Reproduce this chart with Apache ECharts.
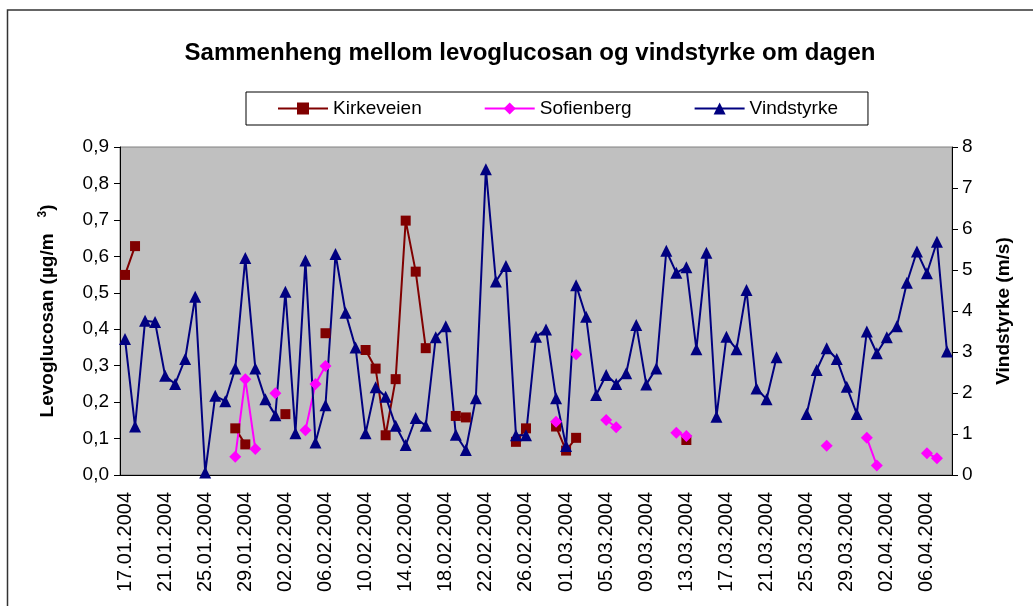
<!DOCTYPE html>
<html>
<head>
<meta charset="utf-8">
<script src="https://cdn.jsdelivr.net/npm/echarts@6/dist/echarts.min.js"></script>
<style>
  html, body { margin: 0; padding: 0; background: #fff; }
  #chart { width: 1033px; height: 606px; }
</style>
</head>
<body>
<div id="chart"></div>
<script>
// dates 17.01.2004 - 08.04.2004
var dates = [
  '17.01.2004', '18.01.2004', '19.01.2004', '20.01.2004', '21.01.2004', '22.01.2004', '23.01.2004', '24.01.2004',
  '25.01.2004', '26.01.2004', '27.01.2004', '28.01.2004', '29.01.2004', '30.01.2004', '31.01.2004',
  '01.02.2004', '02.02.2004', '03.02.2004', '04.02.2004', '05.02.2004', '06.02.2004', '07.02.2004', '08.02.2004',
  '09.02.2004', '10.02.2004', '11.02.2004', '12.02.2004', '13.02.2004', '14.02.2004', '15.02.2004', '16.02.2004',
  '17.02.2004', '18.02.2004', '19.02.2004', '20.02.2004', '21.02.2004', '22.02.2004', '23.02.2004', '24.02.2004',
  '25.02.2004', '26.02.2004', '27.02.2004', '28.02.2004', '29.02.2004',
  '01.03.2004', '02.03.2004', '03.03.2004', '04.03.2004', '05.03.2004', '06.03.2004', '07.03.2004', '08.03.2004',
  '09.03.2004', '10.03.2004', '11.03.2004', '12.03.2004', '13.03.2004', '14.03.2004', '15.03.2004', '16.03.2004',
  '17.03.2004', '18.03.2004', '19.03.2004', '20.03.2004', '21.03.2004', '22.03.2004', '23.03.2004', '24.03.2004',
  '25.03.2004', '26.03.2004', '27.03.2004', '28.03.2004', '29.03.2004', '30.03.2004', '31.03.2004',
  '01.04.2004', '02.04.2004', '03.04.2004', '04.04.2004', '05.04.2004', '06.04.2004', '07.04.2004', '08.04.2004'
]

// levoglucosan, µg/m3
var kirkeveien = [
  0.549, 0.628, null, null, null, null, null, null, null, null, null, 0.128, 0.084, null, null,
  null, 0.167, null, null, null, 0.389, null, null, null, 0.343, 0.292, 0.109, 0.263, 0.698, 0.558, 0.348,
  null, null, 0.162, 0.158, null, null, null, null, 0.091, 0.128, null, null, 0.133,
  0.067, 0.102, null, null, null, null, null, null, null, null, null, null, 0.096, null, null, null,
  null, null, null, null, null, null, null, null, null, null, null, null, null, null, null,
  null, null, null, null, null, null, null, null
]
var sofienberg = [
  null, null, null, null, null, null, null, null, null, null, null, 0.050, 0.263, 0.071, null,
  0.224, null, null, 0.123, 0.250, 0.299, null, null, null, null, null, null, null, null, null, null,
  null, null, null, null, null, null, null, null, null, null, null, null, 0.146,
  null, 0.331, null, null, 0.151, 0.131, null, null, null, null, null, 0.116, 0.107, null, null, null,
  null, null, null, null, null, null, null, null, null, null, 0.080, null, null, null, 0.102,
  0.026, null, null, null, null, 0.060, 0.046, null
]
// vindstyrke, m/s
var vindstyrke = [
  3.32, 1.18, 3.76, 3.73, 2.42, 2.22, 2.83, 4.35, 0.06, 1.93, 1.80, 2.60, 5.29, 2.60, 1.85,
  1.46, 4.47, 1.02, 5.23, 0.79, 1.70, 5.39, 3.96, 3.11, 1.02, 2.14, 1.91, 1.20, 0.73, 1.39, 1.20,
  3.36, 3.63, 0.98, 0.61, 1.87, 7.46, 4.72, 5.10, 0.97, 0.97, 3.37, 3.55, 1.87,
  0.71, 4.63, 3.86, 1.95, 2.44, 2.22, 2.48, 3.66, 2.21, 2.60, 5.47, 4.93, 5.07, 3.07, 5.42, 1.42,
  3.37, 3.07, 4.51, 2.11, 1.85, 2.87, null, null, 1.49, 2.56, 3.09, 2.83, 2.15, 1.49, 3.50,
  2.97, 3.36, 3.63, 4.69, 5.45, 4.92, 5.69, 3.01
]

var font = 'Liberation Sans, Arial, sans-serif'

var chart = echarts.init(document.getElementById('chart'))
chart.setOption({
  animation: false,
  textStyle: { fontFamily: font },
  graphic: [{
    type: 'rect',
    shape: { x: 7.5, y: 10, width: 1100, height: 700 },
    style: { fill: 'none', stroke: '#333', lineWidth: 1.5 },
    silent: true
  }],
  title: {
    text: 'Sammenheng mellom levoglucosan og vindstyrke om dagen',
    left: 525,
    top: 36,
    textAlign: 'center',
    textStyle: { fontSize: 24, fontWeight: 'bold', color: '#000', fontFamily: font }
  },
  legend: {
    left: 246,
    top: 92,
    padding: [7, 30, 7, 31],
    itemGap: 62,
    itemWidth: 50,
    itemHeight: 15,
    borderColor: '#000',
    borderWidth: 1,
    textStyle: { fontSize: 19, color: '#000', fontFamily: font },
    data: ['Kirkeveien', 'Sofienberg', 'Vindstyrke']
  },
  grid: {
    left: 120,
    right: 81,
    top: 147,
    bottom: 131,
    show: true,
    backgroundColor: '#c0c0c0',
    borderColor: '#808080',
    borderWidth: 1
  },
  xAxis: {
    type: 'category',
    data: dates,
    boundaryGap: true,
    axisLine: { lineStyle: { color: '#000', width: 1 } },
    axisTick: { interval: 3, length: 6, lineStyle: { color: '#000' } },
    axisLabel: { interval: 3, rotate: 90, fontSize: 20, color: '#000', margin: 17 },
    splitLine: { show: false }
  },
  yAxis: [{
    type: 'value',
    min: 0,
    max: 0.9,
    interval: 0.1,
    name: '{a|Levoglucosan (µg/m   }{s|3}{a|)}',
    nameLocation: 'middle',
    nameGap: 61,
    nameTextStyle: {
      rich: {
        a: { fontSize: 19, fontWeight: 'bold', color: '#000', fontFamily: font },
        s: { fontSize: 12, fontWeight: 'bold', color: '#000', fontFamily: font, padding: [0, 0, 10, 0] }
      }
    },
    axisLine: { show: true, lineStyle: { color: '#000' } },
    axisTick: { show: true, length: 6, lineStyle: { color: '#000' } },
    axisLabel: {
      fontSize: 19, color: '#000', margin: 11,
      formatter: function (v) { return v.toFixed(1).replace('.', ',') }
    },
    splitLine: { show: false }
  }, {
    type: 'value',
    min: 0,
    max: 8,
    interval: 1,
    name: 'Vindstyrke (m/s)',
    nameLocation: 'middle',
    nameGap: 42,
    nameTextStyle: { fontSize: 19, fontWeight: 'bold', color: '#000' },
    axisLine: { show: true, lineStyle: { color: '#000' } },
    axisTick: { show: true, length: 6, lineStyle: { color: '#000' } },
    axisLabel: { fontSize: 19, color: '#000', margin: 10 },
    splitLine: { show: false }
  }],
  series: [{
    name: 'Kirkeveien',
    type: 'line',
    yAxisIndex: 0,
    data: kirkeveien,
    symbol: 'rect',
    symbolSize: 10,
    showAllSymbol: true,
    connectNulls: false,
    color: '#800000',
    lineStyle: { width: 2, color: '#800000' },
    itemStyle: { color: '#800000' }
  }, {
    name: 'Sofienberg',
    type: 'line',
    yAxisIndex: 0,
    data: sofienberg,
    symbol: 'diamond',
    symbolSize: 12,
    showAllSymbol: true,
    connectNulls: false,
    color: '#ff00ff',
    lineStyle: { width: 2, color: '#ff00ff' },
    itemStyle: { color: '#ff00ff' }
  }, {
    name: 'Vindstyrke',
    type: 'line',
    yAxisIndex: 1,
    data: vindstyrke,
    symbol: 'triangle',
    symbolSize: 12,
    showAllSymbol: true,
    connectNulls: false,
    color: '#000080',
    lineStyle: { width: 2, color: '#000080' },
    itemStyle: { color: '#000080' }
  }]
})
</script>
</body>
</html>
